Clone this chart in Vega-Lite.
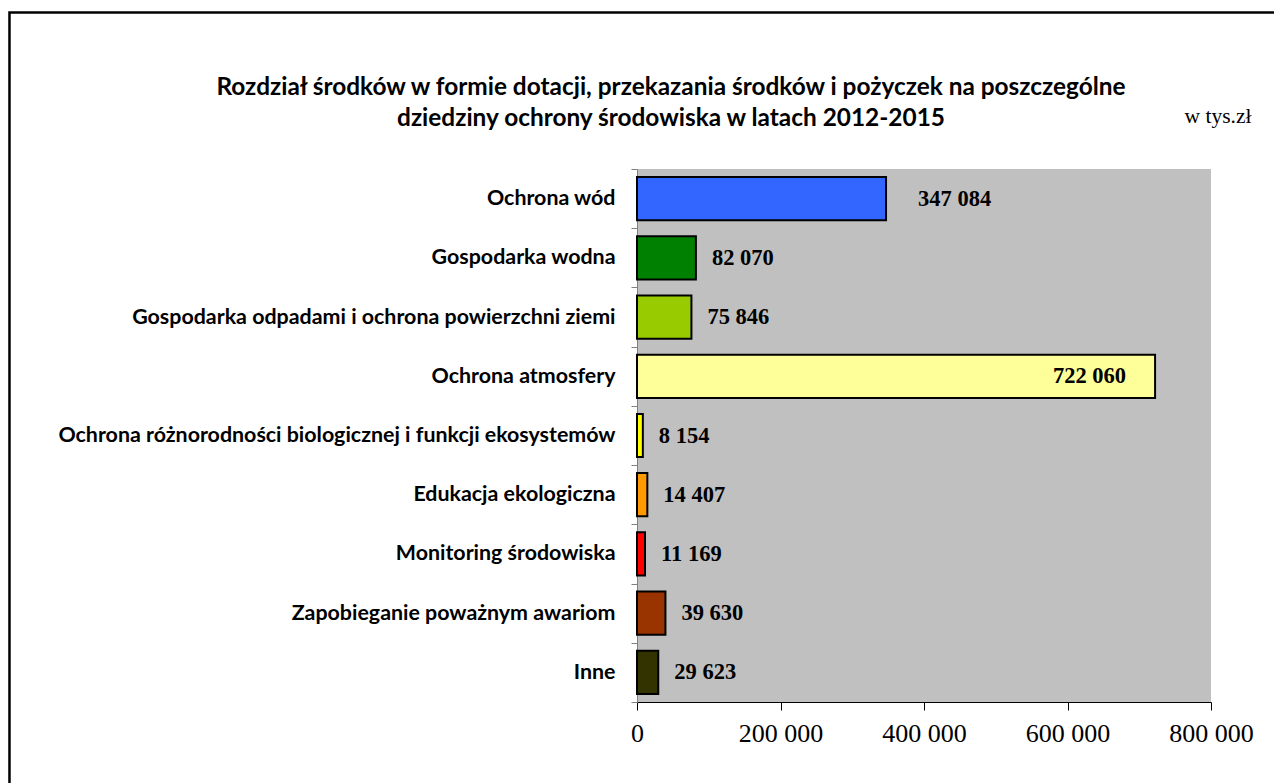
{
  "$schema": "https://vega.github.io/schema/vega-lite/v6.json",
  "width": 574,
  "height": 533,
  "autosize": {"type": "none"},
  "padding": {"left": 637, "top": 169, "right": 63, "bottom": 81},
  "background": "white",
  "title": {
    "text": ["Rozdział środków w formie dotacji, przekazania środków i pożyczek na poszczególne", "dziedziny ochrony środowiska w latach 2012-2015"],
    "anchor": "middle",
    "frame": "group",
    "dx": -253,
    "dy": 120,
    "offset": 0,
    "font": "Lato",
    "fontSize": 24.4,
    "fontWeight": "bold",
    "color": "black",
    "lineHeight": 31
  },
  "config": {
    "view": {"fill": "#C0C0C0", "stroke": null},
    "locale": {"number": {"decimal": ",", "thousands": " ", "grouping": [3], "currency": ["", " zł"]}}
  },
  "data": {
    "values": [
      {"kategoria": "Ochrona wód", "wartosc": 347084},
      {"kategoria": "Gospodarka wodna", "wartosc": 82070},
      {"kategoria": "Gospodarka odpadami i ochrona powierzchni ziemi", "wartosc": 75846},
      {"kategoria": "Ochrona atmosfery", "wartosc": 722060},
      {"kategoria": "Ochrona różnorodności biologicznej i funkcji ekosystemów", "wartosc": 8154},
      {"kategoria": "Edukacja ekologiczna", "wartosc": 14407},
      {"kategoria": "Monitoring środowiska", "wartosc": 11169},
      {"kategoria": "Zapobieganie poważnym awariom", "wartosc": 39630},
      {"kategoria": "Inne", "wartosc": 29623}
    ]
  },
  "layer": [
    {
      "data": {"values": [{"ramka": "ramka"}]},
      "mark": {"type": "rect", "fill": "white", "fillOpacity": 0, "stroke": "black", "strokeWidth": 2.5},
      "encoding": {
        "x": {"datum": -874600, "type": "quantitative", "scale": {"domain": [0, 800000]}},
        "x2": {"datum": 1000000},
        "y": {"datum": 1.2936, "type": "quantitative", "scale": {"domain": [0, 1]}, "axis": null},
        "y2": {"datum": -0.3}
      }
    },
    {
      "layer": [
        {
          "mark": {"type": "bar", "height": {"band": 0.73}, "stroke": "black", "strokeWidth": 2},
          "encoding": {
            "x": {
              "field": "wartosc", "type": "quantitative",
              "scale": {"domain": [0, 800000]},
              "axis": {
                "values": [0, 200000, 400000, 600000, 800000],
                "format": ",d",
                "grid": false,
                "title": null,
                "domainColor": "black",
                "tickColor": "black",
                "tickSize": 8,
                "labelFont": "Liberation Serif",
                "labelFontSize": 26,
                "labelColor": "black",
                "labelPadding": 10,
                "labelFlush": false,
                "labelOverlap": false
              }
            },
            "y": {
              "field": "kategoria", "type": "nominal", "sort": null,
              "scale": {"paddingInner": 0, "paddingOuter": 0},
              "axis": {
                "title": null,
                "tickBand": "extent",
                "tickSize": 6,
                "tickColor": "#808080",
                "domainColor": "#808080",
                "labelFont": "Lato",
                "labelFontWeight": "bold",
                "labelFontSize": 21.4,
                "labelColor": "black",
                "labelPadding": 16,
                "labelLimit": 0
              }
            },
            "color": {
              "field": "kategoria", "type": "nominal", "legend": null,
              "scale": {
                "domain": ["Ochrona wód", "Gospodarka wodna", "Gospodarka odpadami i ochrona powierzchni ziemi", "Ochrona atmosfery", "Ochrona różnorodności biologicznej i funkcji ekosystemów", "Edukacja ekologiczna", "Monitoring środowiska", "Zapobieganie poważnym awariom", "Inne"],
                "range": ["#3366FF", "#008000", "#99CC00", "#FFFF99", "#FFFF00", "#FF9900", "#FF0000", "#993300", "#333300"]
              }
            }
          }
        },
        {
          "transform": [{"filter": "datum.kategoria !== 'Ochrona wód' && datum.kategoria !== 'Ochrona atmosfery'"}],
          "mark": {"type": "text", "align": "left", "baseline": "middle", "dx": 16, "font": "Liberation Serif", "fontWeight": "bold", "fontSize": 22.5, "color": "black"},
          "encoding": {
            "x": {"field": "wartosc", "type": "quantitative"},
            "y": {"field": "kategoria", "type": "nominal", "sort": null},
            "text": {"field": "wartosc", "type": "quantitative", "format": ",d"}
          }
        },
        {
          "transform": [{"filter": "datum.kategoria === 'Ochrona wód'"}],
          "mark": {"type": "text", "align": "left", "baseline": "middle", "dx": 32, "font": "Liberation Serif", "fontWeight": "bold", "fontSize": 22.5, "color": "black"},
          "encoding": {
            "x": {"field": "wartosc", "type": "quantitative"},
            "y": {"field": "kategoria", "type": "nominal", "sort": null},
            "text": {"field": "wartosc", "type": "quantitative", "format": ",d"}
          }
        },
        {
          "transform": [{"filter": "datum.kategoria === 'Ochrona atmosfery'"}],
          "mark": {"type": "text", "align": "right", "baseline": "middle", "dx": -29, "font": "Liberation Serif", "fontWeight": "bold", "fontSize": 22.5, "color": "black"},
          "encoding": {
            "x": {"field": "wartosc", "type": "quantitative"},
            "y": {"field": "kategoria", "type": "nominal", "sort": null},
            "text": {"field": "wartosc", "type": "quantitative", "format": ",d"}
          }
        },
        {
          "data": {"values": [{"jednostka": "w tys.zł"}]},
          "mark": {"type": "text", "align": "center", "baseline": "middle", "dy": -82, "font": "Liberation Serif", "fontSize": 21.5, "color": "black"},
          "encoding": {
            "x": {"datum": 809756, "type": "quantitative"},
            "y": {"datum": "Ochrona wód", "type": "nominal"},
            "text": {"field": "jednostka", "type": "nominal"}
          }
        }
      ]
    }
  ],
  "resolve": {"scale": {"y": "independent"}}
}
